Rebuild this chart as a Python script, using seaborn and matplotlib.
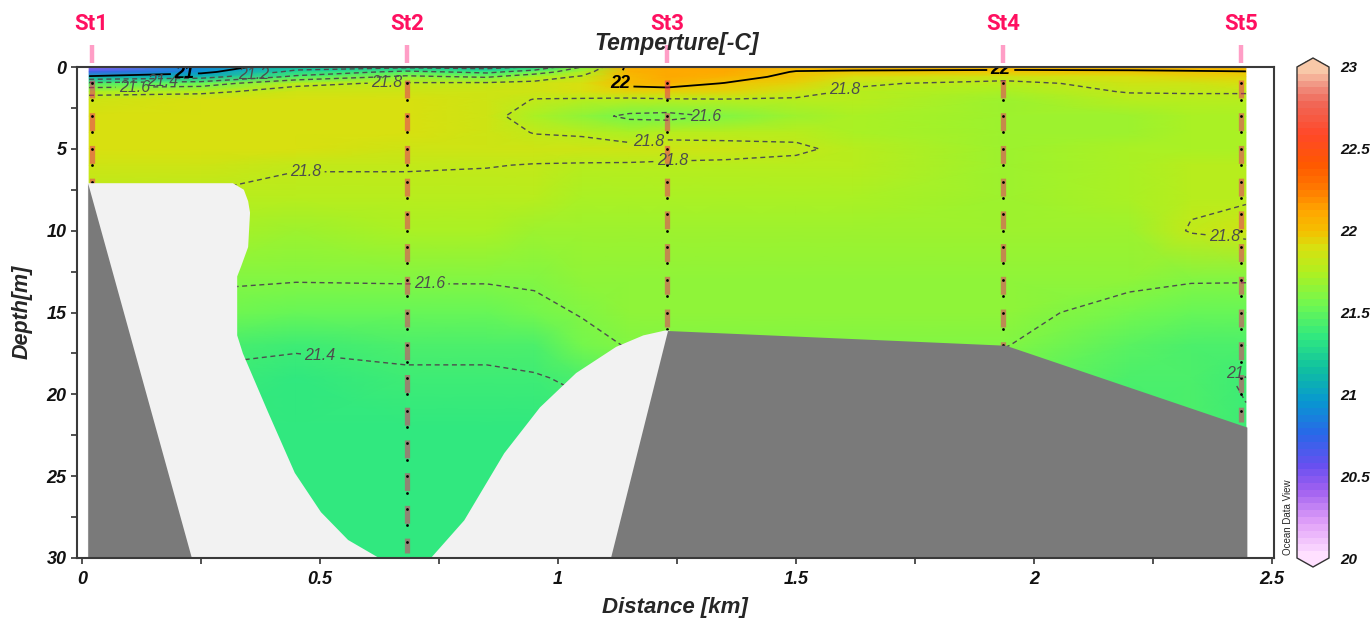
import numpy as np
import pandas as pd
import matplotlib
matplotlib.use("Agg")
import matplotlib.pyplot as plt
import seaborn as sns
from matplotlib.colors import LinearSegmentedColormap
from matplotlib.patches import Rectangle
from matplotlib.ticker import MultipleLocator, FuncFormatter

# ---------------- data ----------------
distance_km = [0.015, 0.25, 0.45, 0.68, 0.85, 0.95, 1.05, 1.15, 1.23, 1.35, 1.50, 1.62, 1.94, 2.20, 2.33, 2.445]
depth_m = [0, 0.3, 0.6, 1, 1.5, 2, 3, 4, 5, 6, 8, 10, 13, 15, 17, 19, 22, 26, 30]

# one temperature profile (over depth_m) per distance_km column
temp_profiles = [
    [20.45, 20.70, 21.05, 21.45, 21.74, 21.87, 21.90, 21.90, 21.88, 21.84, 21.79, 21.74, 21.64, 21.55, 21.45, 21.39, 21.35, 21.35, 21.35],
    [20.88, 20.95, 21.12, 21.50, 21.77, 21.88, 21.91, 21.91, 21.90, 21.85, 21.79, 21.73, 21.62, 21.55, 21.43, 21.38, 21.35, 21.35, 21.35],
    [21.12, 21.25, 21.45, 21.77, 21.85, 21.88, 21.91, 21.91, 21.89, 21.81, 21.76, 21.70, 21.605, 21.54, 21.41, 21.37, 21.35, 21.35, 21.35],
    [21.15, 21.45, 21.64, 21.82, 21.86, 21.88, 21.89, 21.89, 21.87, 21.81, 21.76, 21.71, 21.61, 21.53, 21.43, 21.38, 21.35, 21.34, 21.34],
    [21.12, 21.35, 21.58, 21.83, 21.87, 21.86, 21.84, 21.85, 21.87, 21.805, 21.75, 21.71, 21.61, 21.53, 21.43, 21.38, 21.35, 21.34, 21.34],
    [21.22, 21.50, 21.72, 21.84, 21.84, 21.795, 21.74, 21.795, 21.85, 21.795, 21.75, 21.70, 21.62, 21.56, 21.45, 21.39, 21.36, 21.34, 21.34],
    [21.60, 21.72, 21.82, 21.88, 21.90, 21.78, 21.66, 21.78, 21.86, 21.79, 21.74, 21.69, 21.64, 21.61, 21.55, 21.42, 21.36, 21.34, 21.34],
    [22.05, 22.05, 22.04, 22.03, 21.95, 21.76, 21.57, 21.72, 21.85, 21.79, 21.73, 21.68, 21.66, 21.64, 21.61, 21.50, 21.40, 21.36, 21.34],
    [22.12, 22.12, 22.10, 22.05, 21.95, 21.78, 21.55, 21.75, 21.86, 21.78, 21.73, 21.68, 21.65, 21.64, 21.61, 21.55, 21.45, 21.40, 21.38],
    [22.12, 22.10, 22.06, 21.995, 21.92, 21.79, 21.62, 21.76, 21.84, 21.78, 21.72, 21.68, 21.65, 21.64, 21.61, 21.55, 21.50, 21.45, 21.40],
    [22.05, 21.99, 21.96, 21.92, 21.86, 21.78, 21.70, 21.77, 21.82, 21.77, 21.72, 21.68, 21.65, 21.64, 21.61, 21.55, 21.50, 21.45, 21.40],
    [22.05, 21.98, 21.90, 21.82, 21.78, 21.76, 21.72, 21.74, 21.77, 21.75, 21.71, 21.67, 21.65, 21.64, 21.61, 21.55, 21.50, 21.45, 21.40],
    [22.06, 21.96, 21.86, 21.76, 21.72, 21.70, 21.68, 21.68, 21.69, 21.70, 21.70, 21.68, 21.66, 21.64, 21.605, 21.52, 21.45, 21.40, 21.38],
    [22.06, 21.97, 21.90, 21.85, 21.81, 21.75, 21.70, 21.70, 21.71, 21.72, 21.74, 21.70, 21.63, 21.55, 21.47, 21.42, 21.40, 21.38, 21.36],
    [22.07, 21.98, 21.92, 21.86, 21.81, 21.77, 21.73, 21.72, 21.73, 21.75, 21.78, 21.81, 21.61, 21.52, 21.45, 21.43, 21.42, 21.40, 21.38],
    [22.08, 21.99, 21.94, 21.88, 21.81, 21.77, 21.74, 21.73, 21.74, 21.76, 21.79, 21.84, 21.61, 21.50, 21.44, 21.39, 21.41, 21.40, 21.38],
]

station_names = ["St1", "St2", "St3", "St4", "St5"]
station_km = [0.02, 0.683, 1.229, 1.935, 2.435]
station_bottom_m = [7, 29, 16, 17, 21]

# seabed (dark grey)
bathy_km = [0.012, 0.23, 1.11, 1.23, 1.94, 2.447]
bathy_m = [7.1, 30, 30, 16.1, 17.0, 22.0]

# areas without data (light grey)
gap_left_km = [0.012, 0.317, 0.34, 0.349, 0.353, 0.349, 0.334, 0.326, 0.326, 0.338, 0.391, 0.447, 0.502, 0.559, 0.624, 0.012]
gap_left_m = [7.1, 7.1, 7.5, 8.2, 8.9, 11.0, 12.2, 12.8, 16.4, 17.5, 21.1, 24.8, 27.2, 28.9, 30.0, 30.0]
gap_right_km = [0.733, 0.803, 0.887, 0.962, 1.038, 1.122, 1.179, 1.225, 1.235, 1.235]
gap_right_m = [30.0, 27.7, 23.6, 20.8, 18.7, 17.1, 16.4, 16.1, 16.1, 30.0]

dashed_levels = [21.2, 21.4, 21.6, 21.8]
solid_levels = [21.0, 22.0]
cbar_ticks = [20, 20.5, 21, 21.5, 22, 22.5, 23]

cmap_values = [20.0, 20.2, 20.4, 20.55, 20.75, 20.95, 21.15, 21.35, 21.55, 21.75,
               21.9, 22.0, 22.12, 22.27, 22.42, 22.6, 22.8, 22.9, 23.0]
cmap_colors = ['#ffe0ff', '#e0a0f8', '#a060f0', '#6850f0', '#2868e8', '#0898d0',
               '#10c0a0', '#30e880', '#70f850', '#b0f020', '#d8e010', '#f4c000',
               '#ffa800', '#ff7800', '#ff5800', '#ff4828', '#f06858', '#f09080', '#f8c8a8']

# ---------------- style ----------------
sns.set_theme(style="white")
plt.rcParams['font.family'] = ['Liberation Sans', 'DejaVu Sans']
plt.rcParams['font.style'] = 'italic'
plt.rcParams['font.weight'] = 'bold'
plt.rcParams['axes.unicode_minus'] = False

vmin, vmax = cmap_values[0], cmap_values[-1]
pos = [(v - vmin) / (vmax - vmin) for v in cmap_values]
cmap = LinearSegmentedColormap.from_list("odv", list(zip(pos, cmap_colors)), N=72)
cmap.set_over(cmap_colors[-1])
cmap.set_under(cmap_colors[0])

fig = plt.figure(figsize=(13.71, 6.23), dpi=100)
W, H = 1371, 623
ax = fig.add_axes([77 / W, 1 - 558 / H, (1274 - 77) / W, (558 - 67) / H])
cax = fig.add_axes([1297 / W, 1 - 567 / H, 32 / W, (567 - 58) / H])

X, Y = np.meshgrid(distance_km, depth_m)
T = np.array(temp_profiles).T

mesh = ax.pcolormesh(X, Y, T, shading='gouraud', cmap=cmap, vmin=vmin, vmax=vmax, zorder=1)

cs_d = ax.contour(X, Y, T, levels=dashed_levels, colors='#4d4d4d', linewidths=1.0,
                  linestyles=[(0, (3.6, 2.6))], zorder=2)
cs_s = ax.contour(X, Y, T, levels=solid_levels, colors='black', linewidths=1.3, zorder=2)

lab_d = ax.clabel(cs_d, fmt=lambda v: f"{v:g}", fontsize=11.5, colors='#4d4d4d', inline=True,
                  inline_spacing=4,
                  manual=[(0.11, 1.25), (0.17, 0.95), (0.36, 0.35), (0.64, 0.95), (0.47, 6.4),
                          (1.60, 1.2), (1.19, 4.1), (1.31, 3.1), (1.24, 5.8), (0.73, 13.3),
                          (0.50, 17.5), (2.40, 10.3), (2.43, 18.4)])
lab_s = ax.clabel(cs_s, fmt=lambda v: f"{v:g}", fontsize=13, colors='black', inline=True,
                  inline_spacing=4, manual=[(0.215, 0.3), (1.13, 1.1), (1.93, 0.25)])
field_clip = Rectangle((distance_km[0], 0), distance_km[-1] - distance_km[0], 30,
                       transform=ax.transData, facecolor='none', edgecolor='none')
for t in list(lab_d) + list(lab_s):
    t.set_fontstyle('italic')
    t.set_rotation(0)
    t.set_clip_path(field_clip)
for t in lab_d:
    t.set_fontweight('normal')

ax.fill(gap_left_km, gap_left_m, color='#f2f2f2', lw=0, zorder=4)
ax.fill(gap_right_km, gap_right_m, color='#f2f2f2', lw=0, zorder=4)
ax.fill_between(bathy_km, bathy_m, 30, color='#7a7a7a', lw=0, zorder=4.5)

# station casts (drawn under the seabed so they stop at the bottom)
for x, b in zip(station_km, station_bottom_m):
    ax.plot([x, x], [0.8, b + 0.7], color='#ed236a', alpha=0.5, lw=3.8,
            linestyle=(0, (3.4, 2.8)), zorder=3.5)

samples = pd.DataFrame(
    [(x, d) for x, b in zip(station_km, station_bottom_m) for d in range(1, b + 1)],
    columns=["distance", "depth"])
sns.scatterplot(data=samples, x="distance", y="depth", color='black', s=4, linewidth=0,
                ax=ax, zorder=3.6, legend=False)

# station markers above the frame
trans = ax.get_xaxis_transform()
for x, name in zip(station_km, station_names):
    ax.plot([x, x], [1.008, 1.044], transform=trans, color='#ff9ec6', lw=3.2,
            solid_capstyle='butt', clip_on=False, zorder=7)
    ax.text(x, 1.076, name, transform=trans, ha='center', va='baseline', color='#ff1060',
            fontsize=16, fontweight='bold', fontstyle='normal', family='Roboto')

# axes formatting
ax.set_xlim(-0.0105, 2.504)
ax.set_ylim(30, 0)
ax.set_xlabel("")
ax.set_ylabel("")
ax.xaxis.set_major_locator(MultipleLocator(0.5))
ax.xaxis.set_minor_locator(MultipleLocator(0.25))
ax.yaxis.set_major_locator(MultipleLocator(5))
ax.yaxis.set_minor_locator(MultipleLocator(2.5))
fmt = FuncFormatter(lambda v, p: f"{v:g}")
ax.xaxis.set_major_formatter(fmt)
ax.yaxis.set_major_formatter(fmt)
ax.tick_params(which='both', direction='out', length=4.5, width=1.2, color='#333333',
               labelsize=13, labelcolor='#111111', bottom=True, left=True)
ax.tick_params(axis='x', pad=5)
ax.tick_params(axis='y', pad=3)
for s in ax.spines.values():
    s.set_color('#3a3a3a')
    s.set_linewidth(1.5)
    s.set_zorder(8)

fig.text(677 / W, 1 - 50 / H, "Temperture[-C]", ha='center', va='baseline', fontsize=16.5)
fig.text(675 / W, 1 - 608 / H, "Distance [km]", ha='center', va='center', fontsize=16)
fig.text(22 / W, 1 - 312 / H, "Depth[m]", ha='center', va='center', rotation=90, fontsize=15.5)
fig.text(1288 / W, 1 - 517 / H, "Ocean Data View", ha='center', va='center', rotation=90,
         fontsize=7, fontstyle='normal', fontweight='normal')

cb = fig.colorbar(mesh, cax=cax, extend='both', extendfrac=0.0183, ticks=cbar_ticks)
cb.ax.yaxis.set_major_formatter(fmt)
cb.ax.tick_params(length=0, labelsize=11, pad=8, labelcolor='#111111')
cb.outline.set_edgecolor('#333333')
cb.outline.set_linewidth(1.0)
cb.ax.minorticks_off()

fig.savefig("out.png", dpi=100, facecolor='white')
